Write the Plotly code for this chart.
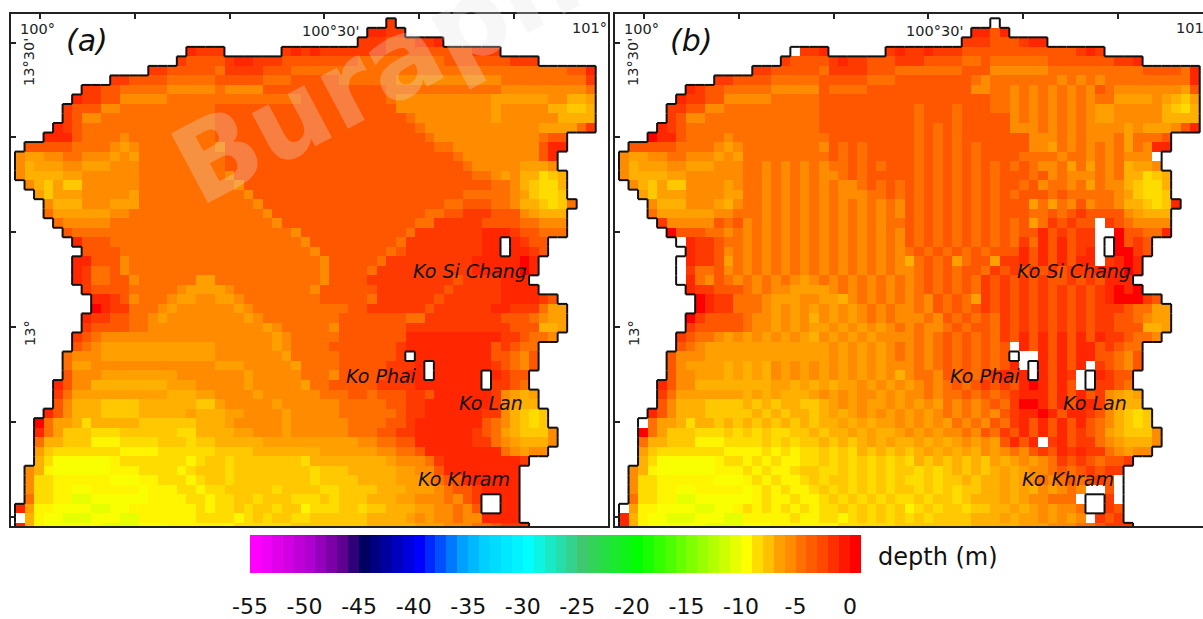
import plotly.graph_objects as go

W, H = 1203, 619
DEPTH_TICKS = [-55, -50, -45, -40, -35, -30, -25, -20, -15, -10, -5, 0]
COLOR_STOPS = [(-55, (255, 0, 255)), (-50, (176, 0, 208)), (-47, (96, 0, 144)), (-45, (0, 0, 96)),
               (-40, (0, 0, 255)), (-36, (0, 160, 255)), (-34, (0, 208, 255)), (-30, (0, 255, 255)),
               (-25, (64, 200, 112)), (-20, (0, 255, 0)), (-10, (255, 255, 0)), (-9, (255, 220, 0)),
               (-8, (255, 192, 0)), (-7, (255, 160, 0)), (-6, (255, 140, 0)), (-5, (255, 112, 0)),
               (-4, (255, 92, 0)), (-3, (255, 72, 0)), (-2, (255, 48, 0)), (-1, (255, 24, 0)), (0, (255, 0, 0))]
# depth in metres for each class letter used in the grids below
DEPTH_OF = {"0": 0, "1": 1.6, "2": 2.4, "3": 3.7, "4": 5, "5": 6, "6": 7, "7": 7.5, "8": 8.3, "9": 9, "a": 9.7, "b": 10.2, "c": 11}
LEFT = [39, 37, 36, 18, 17, 14, 10, 7, 6, 5, 5, 4, 3, 1, 0, 0, 0, 1, 2, 3, 3, 4, 5, 6, 7, 6, 6, 6, 7, 8, 8, 7, 7, 6, 6, 5, 5, 5, 4, 4, 4, 3, 2, 2, 2, 2, 2, 1, 1, 1, 1, 0, 0, 0]
RIGHT = [40, 41, 45, 51, 55, 61, 61, 61, 61, 61, 61, 61, 58, 58, 57, 57, 58, 58, 58, 59, 58, 58, 58, 56, 56, 55, 55, 54, 55, 57, 58, 58, 58, 57, 55, 55, 55, 54, 54, 55, 55, 56, 56, 57, 57, 56, 54, 53, 53, 53, 53, 53, 53, 54]
ISLANDS = [(23, 51), (24, 51), (35, 41), (36, 43), (37, 43), (37, 49), (38, 49), (50, 49), (50, 50), (51, 49), (51, 50)]
WHITE_A = [(52, 0)]

A_ROWS = [
"2", "1122", "222333221", "1222 ...... 21212222222 333333333 222",
"2 3333 2 11 2 22 3*8 4*9 3*6 3222",
"22 3*5 4 2222 333 4*29 33 1",
"22 3333 4*5 3 3333 444 3*5 4*6 5*11 4*9 2",
"22 33 4*5 5*5 4 5555 3*13 4*12 5*9 4",
"1 22 33 5*5 4*14 3*9 4 5*10 6*6 55 77 6",
"2 333 55 4*10 3*19 5 5*9 6 5*5 77 88 7",
"2 3 55 4*12 3*20 4 5*8 6 5*6 7777",
"1 2 3 4*14 3*21 4 5*12 6666 4 2",
"111 3 4444 5 4*9 3*22 4 5*11 433",
"3*5 4444 5 6 5 4*8 5 3*22 44 5*9 3 1 1",
"5 66 55 44 555 6 5 6 4*8 4 3*24 4 5*8 3 1",
"5 7 666 55 666 555 4*8 4 3*25 4 5*5 666 5",
"5 7777 66 5*6 4*9 5 3*25 44 5 6 5 77 9 8 7",
"5 7 8 6 88 5*6 4*10 5 3*25 3 44 5 7 8 9 9 7",
"6 8 666 5*5 6 4*11 5 3*22 4*5 5 6 8 9 9 8",
"5 777 555 666 4*12 5 3*19 44 333 44 5 7 7 8 9 8 4",
"4 6*6 55 4*14 5 3*16 44 33 222 333 5 6 777",
"4 5*5 4*17 5 3*14 44 2*5 3333 4 4555",
"3 4*23 5 3*11 4 2*7 111 2 3 3444",
"1 333 4*20 5 3*9 4 2*8 11 1 1 233",
"3333 4*20 5 3*7 4 3 2*8 11 1 1 123",
"11 333 5 4*20 5 3*5 4 2*9 1*5 01",
"1 2 44 3 5 4*20 5 3*4 4 2*10 1*5 01",
"1 2 44 33 5 4*6 66 4*11 5 3*4 2*9 3 2222 111",
"2 333 3 4*5 5 666 65 4*8 5 3*6 2*7 3 2*5 1111",
"1 1 2 3 5 444 5 66 55 66 5 4*8 3*5 4 2*6 3 2*6 1111 2 3",
"0 1 22 444 5 6 5*6 6 5 4*10 33 2*6 3 2*6 11 222 4 6 6",
"1 22 33 44 5 6 5*8 6 5 4*8 3*7 44 2*8 33 3 4 5 66",
"2 3333 44 5*12 6 5 4*5 5 3*6 3 2*10 233 3 77 6",
"2 3 4 5*18 6 5 4*5 3*7 1*10 22 3 44 5",
"3 4 5 6*12 5*6 6 5 4*4 3*7 2 1*9 3 2 3 4 4",
"4 555 6*12 5*7 6 4*5 3*6 2 1*9 33 4 5 3",
"4 6 6 5*13 66 6 5*5 6 4*4 3*5 2221 1*6 1 2 3 4 5 3",
"3 555 6*8 5*7 6 5*5 444 5 3*5 2211 1*6 11 2 3 3",
"1 3 55 7*8 666 5*5 6 5*5 6 4433333 2222 1*8 22 3 4",
"2 4 6 6*9 777 66 5*4 6 5*5 544433 4 33 3 22 3 1*6 2 56 76",
"3 5 777 8888 7*6 88 6 5*5 6 5*6 4 4444 33 22 1*7 2 5 6 77",
"1 3 5 777 8888 7*5 6 777 66 5555 6 555 55 444444 3 22 1*6 22 5 7 8 9 8",
"0 4 66 7 9 7*5 8*6 777 6 5*5 6 5*6 4444 332 1*7 3 4 5 7 8 9 8",
"1 4 6 888 999 8*6 99 7777 6 6555 6 5*6 444 33 22 1*6 2 3 4 6 7 888 5",
"4 77 888 aaa 9999 888 9 8 87777 7 6666 6*6 5544 33 1*6 2 2 4 5 6 777 5",
"6 8 9*7 aaaa 9*5 9 8888 7*7 6*6 55443 1*8 4 5 6 5 5",
"7 9 b*6 a99999 99 a9 88 9 8*7 9 7*7 7 65554 2 1*8 2",
"5 7 a b*6 aaa 9999 a 9 8 88 9 8*7 8 9 8 88 7*5 6655 3 1*8",
"5 99 a*6 bbb aa999 a 9 889 8*8 9888 8777 7666 54 33 1*6",
"5 99 aa bb a*5 b aaa 99 a 9988888988 8899 88887 77666 54332 1111",
"4 99 aa cc b*6 aaaa 99 a 998898889 9 989 88877 76655 54532 1111",
"1 6 aa bbbb cc bb a*7 9a9 98988988 a 9998 8988 77766 55453 1111",
"1 7 a bb ccc bbb cc aaa aa a9 99 9a9 89889 9888 88877 77656 55455 1111",
"17a b*6 cccc bbb a*7 9*6 8*8 7*5 666 555 44 3 222",
]

B_ROWS = [
".", "1131", "222 333 211", ".221 ...... 21221222 333333333 333 212",
"2 3333 2 1 22 333 222 3333 44 3 444444 333333 3221",
"22 33333 4 2222 333 4*7 33 3 555555 4*10 3333 4 1",
"22 3333 44444 3 3333 444 3*8 4 5 4*7 5 4 5 4 5 4*9 1",
"1 2 33 44444 55555 3 4444 3*11 55 44 5 4 5 4 5 4 5 4 5 3 4 5*7 6 3",
"1 22 33 55555 44444 3*18 44 5 4 5 4 5 4 5 4 5 4 4 6 666 5 6 7 8 6",
"2 2 33 55 4*10 3*10 4 333 4 33 3 44 5 4 5 4 5 4 5 4 5 66 5*5 7 8 9 7",
"2 3 55 4*12 3*10 4 333 4 3*5 5 4 5 4 5 4 5 4 5 66 5*5 7777",
"1 2 3 4*14 3*10 4 3 4 3 4 3*5 555 4 5 4 5 4 5555 6 5 6665 3 1",
"0 11 3 4444 5 4*9 4 3*9 4 3 4 3 4 3*7 555 4 5 4 5 5 5 4 6 4 4 4 3",
"3*5 4444 5 6 5 4*8 5 3 4 3 4 3*5 4 3 4 3 4 3 4 3*5 55 6 4 5 4 5 4 5 4 6 4 5 1 1",
"5 66 55 44 555 6 5 6 4*9 3 4 3 4 3*5 4 3 4 3 4 3 4 3333 4444 5 4 4 5 4 5 4 5 55 .",
"5 7 666 55 666 555 44 5 4 5 4 5 4 5 4 4 3 4 3 4 333 4 3 4 3 4 3 4 3 4 3 4 3 4 55 4 6 4 6 4 5 4 7 66 5",
"5 7777 66 5*6 44 5 4 5 4 5 4 55 4 3 4 3 3 333 4 3 4 3 4 3 4 3 4 333 43 5 4 5 55 4 5 4 77 9 8 7",
"5 7 8 6 88 5555 6 5 44 5 4 5 4 5 4 5 4 55 4 3 4 3 4 3 4 3 4 3 4 3 4 3 4 3 3 4 3 5 4 4 5 4 6 4 5 5 7 8 9 9 7",
"6 8 666 5555 66 44 5 4 5 4 5 4 5 4 555 4 4 3 4 3 4 3 4 3 4 3 4 3 4 3 4 3 3 343 44444 5 6 8 9 9 8",
"5 777 555 6 7 5 44 5 4 5 4 5 4 5 4 5 4 5 4 5 4 5 3 4 3 4 3 4 3 4 3 4 333 6 4 6 4 5 3 5 44 5 7 7 8 9 8 1",
"4 6*6 55 44454 5 4 5 4 5 4 5 4 5 4 5 4 5 3 4 3 4 3 4 3 4 3 4 3 3 3 44 3 4 3 2 3 333 5 6 777",
"2 55555 3 4 3 5454545454545454 4 3434343434343 6 4 2 3 2 3 3 . 2 3 4 5555",
"0 3 33 4 45 4 54545454545454545 343434343434 33 1 3 2 3 22 .. 0 33 44 1",
". 1 22 3 44 54545454545454545 343434343434 2 4 1 3 1 3 2 2 . 1 0 3 2 3",
"1 22 3 5 454545454545454545 4343434343 33 1 3 1 3 1 3 2 1 . 1 0 0 2 3",
". 1 22 3 6 454545454545454545 7 4343 6 4 33 6 22 1 3 1 3 1 3 1 1 . 2 1 0 1",
". 2 44 3 5 454545454545454545 5 4 3 4 3 4 33 4 232323232 22 111 01",
". 1 4 5 3 4 5 454545 6 5 45454545454 3 4 3 4 3 4 23232323 3 2323 111",
"1 22 3 3 3 4545 5 6 66 6 5 454545454 343434 2323232323232 1010",
"0 1 22 4 4 45 666 55 66 7 5 4545454 5 3434 6 2323232323232 1000 2 3",
"0 1 22 444 5 6 5 6 5 6 5 6 5 6 5 4 5 4 5 5 4 5 3 4 3 4 3 232323232323 2223 4 4 6 6",
"0 2 333 3 4 5 5 6 5 6 5 7 5 6 5 6 5 4 5 4 5 5545 3 4 3 4 3 4 23232323232 233 4 5 66",
"2 3333 34 5 5 6 5 6 5 6 6 5 6 5 6 5 6 5 4 5 4 5 5 4 3 4 3 3 4 23232323232 233 3 77 6",
"2 3 44 5 6 5 6 5 6 5 6 5 6 7 5 656565 5 5 5454 343434 23131313131 22 3 44 5",
"3 4 5 6*13 5 6 5 6 5 6 5 4 5454 3434343 . 13131311 3 2 3 44",
"3 555 6*13 5656565 4 5454 3434343 ... 131311 33 4 5 3",
"3 5 6 666 7 6 7 6 7 5 6 5 6 5 65656565 5 5454 343434 31 .. 13131 . 2 3 4 5 3",
"3 55 6 66 7 6 7 6 7 5 6 5 6 5 6 5 6 5 6 5 6 5 7 544 5 34343 2121 . 1312 .. 1 2 3 3",
"1 3 55 7*8 66767676 6 5 6 5 6 5 6 5454343 2323 101313 .. 2234",
"2 4 6 6*6 767677 76 56565 56565 5 45443 4 34 3 21 1 131313 2 56 76",
"3 5 777 8888 787877 88 7 65656 6 565656 45454 34 2 00 1313 11 2 5 6 77",
"1 3 5 777 8888 878787 787 67 6565 6 56565 454545 3 21 101311 23 5 7 8 9 8",
". 4 66 7 9 77878 787878 787 7 67676 6 565656 4545 342 1313131 3 4 5 7 8 9 8",
"0 4 6 888 999 898989 98 8787 7 6767 7 656565 545 34 23 131313 2 3 4 6 7 888 5",
"4 77 888 aaa 9999 898 9 8 87878 7 6767 767676 5656 3131 . 2 13 22 4 5 6 777 5",
"6 8 9*7 aaaa 9a9a9 9 8989 7878787 676767 56545 323 1212 2 4 5 6 55",
"7 9 b*6 a99a9a 9a a9 989 8989898 9 78787878 676565 42323 4332",
"5 7 a b*6 aaa 9a9a a 9 8 89 9 8989898 89898 78787 6765 54343 2322",
"5 99 a*6 bbb a9a9a a 9 898 89898989 9898 8787 7676 545434 323.",
"5 99 aa bb a*5 b a9a 9a a 9898989898 8989 89887 76767 56545 .. 3 .",
"4 99 aa cc b*6 a9aa 9a a 989898989 9 898 89877 76765 5444 . .. 2 .",
". 6 aa bbbb cc bb a9a9a9a 9a9 98989898 a 9898 8988 77676 56554 .. 23",
"1 7 a bb ccc bbb cc aaa aa9a a9 9a9 89898 9898 88877 76766 56565 . 2 32",
"17a b*6 cccc bbb a*7 9*6 8*8 7*5 666 555 44 3 222",
]

NCOL = 61
NROW = len(A_ROWS)
PXMIN = 9.48            # pixels per arc-minute on the map axes
CELL = 9.52 / PXMIN     # grid spacing in arc-minutes
X_EDGE0 = (15 - 40) / PXMIN
Y_EDGE0 = (327 - 18.3) / PXMIN


def expand(text):
    out = ""
    for tok in text.split():
        if "*" in tok:
            ch, n = tok.split("*")
            out += ch * int(n)
        else:
            out += tok
    return out


def build(rows):
    grid = []
    for r, text in enumerate(rows):
        cells = expand(text)
        cells = (cells + cells[-1] * NCOL)[:RIGHT[r] - LEFT[r]]
        line = [None] * NCOL
        for i, ch in enumerate(cells):
            if ch != ".":
                line[LEFT[r] + i] = -DEPTH_OF[ch]
        grid.append(line)
    return grid


grid_a = build(A_ROWS)
grid_b = build(B_ROWS)
for r, c in ISLANDS:
    grid_a[r][c] = None
    grid_b[r][c] = None


def coastline(grid):
    xs, ys = [], []
    ex = lambda k: X_EDGE0 + CELL * k
    ey = lambda r: Y_EDGE0 - CELL * r
    sea = lambda r, c: 0 <= r < NROW and 0 <= c < NCOL and grid[r][c] is not None
    for r in range(NROW):
        for c in range(NCOL):
            if not sea(r, c):
                continue
            if not sea(r - 1, c):
                xs += [ex(c), ex(c + 1), None]; ys += [ey(r), ey(r), None]
            if not sea(r + 1, c):
                xs += [ex(c), ex(c + 1), None]; ys += [ey(r + 1), ey(r + 1), None]
            if not sea(r, c - 1):
                xs += [ex(c), ex(c), None]; ys += [ey(r), ey(r + 1), None]
            if not sea(r, c + 1):
                xs += [ex(c + 1), ex(c + 1), None]; ys += [ey(r), ey(r + 1), None]
    return xs, ys


coast_x, coast_y = coastline(grid_a)
for r, c in WHITE_A:
    grid_a[r][c] = None


def lerp_color(v):
    for (v0, c0), (v1, c1) in zip(COLOR_STOPS, COLOR_STOPS[1:]):
        if v0 <= v <= v1:
            t = (v - v0) / (v1 - v0)
            return "rgb(%d,%d,%d)" % tuple(round(a + (b - a) * t) for a, b in zip(c0, c1))


LEVELS = list(range(-55, 1))
bar_scale = []
for i, lv in enumerate(LEVELS):
    col = lerp_color(lv)
    bar_scale.append([i / len(LEVELS), col])
    bar_scale.append([(i + 1) / len(LEVELS), col])
map_scale = [[(lv + 55) / 55, lerp_color(lv)] for lv in LEVELS]

xc = [X_EDGE0 + CELL * (c + 0.5) for c in range(NCOL)]
yc = [Y_EDGE0 - CELL * (r + 0.5) for r in range(NROW)]

fig = go.Figure()
for i, grid in enumerate([grid_a, grid_b]):
    ax = "" if i == 0 else "2"
    fig.add_trace(go.Heatmap(z=grid, x=xc, y=yc, xaxis="x" + ax, yaxis="y" + ax, colorscale=map_scale,
                             zmin=-55, zmax=0, showscale=False, hoverinfo="skip"))
    fig.add_trace(go.Scatter(x=coast_x, y=coast_y, xaxis="x" + ax, yaxis="y" + ax, mode="lines",
                             line=dict(color="#111111", width=2), hoverinfo="skip", showlegend=False))
fig.add_trace(go.Heatmap(z=[LEVELS], x=[v + 0.5 for v in LEVELS], y=[0], xaxis="x3", yaxis="y3",
                         colorscale=bar_scale, zmin=-55.5, zmax=0.5, showscale=False, hoverinfo="skip"))

FRAME = dict(showgrid=False, zeroline=False, showline=True, linecolor="#222222", linewidth=2,
             showticklabels=False, ticks="inside", ticklen=5, tickcolor="#222222", tickwidth=1.5)
LON_TICKS = [0, 10, 20, 30, 40, 50, 60]
LAT_TICKS = [30, 20, 10, 0, -10, -20]
yrange = [(327 - 526) / PXMIN, (327 - 14) / PXMIN]
ydomain = [1 - 526 / H, 1 - 14 / H]
fig.update_layout(
    width=W, height=H, autosize=False, margin=dict(l=0, r=0, t=0, b=0, autoexpand=False),
    paper_bgcolor="white", plot_bgcolor="white", showlegend=False,
    xaxis=dict(FRAME, domain=[11 / W, 608 / W], range=[(11 - 40) / PXMIN, (608 - 40) / PXMIN],
               side="top", tickvals=LON_TICKS, mirror=True, anchor="y"),
    yaxis=dict(FRAME, domain=ydomain, range=yrange, tickvals=LAT_TICKS, mirror=True, anchor="x"),
    xaxis2=dict(FRAME, domain=[615 / W, 1], range=[(615 - 644) / PXMIN, (1203 - 644) / PXMIN],
                side="top", tickvals=LON_TICKS, mirror=True, anchor="y2"),
    yaxis2=dict(FRAME, domain=ydomain, range=yrange, tickvals=LAT_TICKS, mirror=False, anchor="x2"),
    xaxis3=dict(domain=[250 / W, 861 / W], range=[-55, 1], showgrid=False, zeroline=False, showline=False,
                tickmode="array", tickvals=DEPTH_TICKS, ticktext=[str(v) for v in DEPTH_TICKS], ticks="",
                ticklabelstandoff=18, tickfont=dict(family="DejaVu Sans", size=22, color="#111111"),
                anchor="y3"),
    yaxis3=dict(domain=[1 - 573 / H, 1 - 535 / H], visible=False, anchor="x3"),
)

notes = []


def note(text, x, y, size, angle=0, italic=False, color="#111111"):
    family = "DejaVu Sans"
    txt = "<i>%s</i>" % text if italic else text
    notes.append(dict(text=txt, x=x / W, y=1 - y / H, xref="paper", yref="paper", showarrow=False,
                      xanchor="center", yanchor="middle", textangle=angle,
                      font=dict(family=family, size=size, color=color)))


PANEL_SHIFT = [0, 604]
PLACE_LABELS = ["Ko Si Chang", "Ko Phai", "Ko Lan", "Ko Khram"]
PLACE_PX = [(470, 271), (381, 376), (491, 403), (464, 479)]
for i, dx in enumerate(PANEL_SHIFT):
    note("(a)" if i == 0 else "(b)", 87 + dx, 41, 30, italic=True)
    note("100°", 37 + dx, 29, 14.5, color="#222222")
    note("100°30'", 330 + dx, 31, 14.5, color="#222222")
    note("101°", 589 + dx, 28, 14.5, color="#222222")
    note("13°30'", 29 + dx, 62, 14.5, angle=-90, color="#222222")
    note("13°", 30 + dx, 333, 14.5, angle=-90, color="#222222")
    for name, (px, py) in zip(PLACE_LABELS, PLACE_PX):
        note(name, px + dx, py, 19, italic=True)
note("depth (m)", 938, 557, 24)
notes.append(dict(text="<b>Burapha</b>", x=408 / W, y=1 - 55 / H, xref="paper", yref="paper", showarrow=False,
                  xanchor="center", yanchor="middle", textangle=-28,
                  font=dict(family="DejaVu Sans", size=108, color="rgba(255,255,255,0.2)",
                            shadow="0 0 1px rgba(170,170,170,0.55)")))
fig.update_layout(annotations=notes)

fig.write_html("out.html", config={"displayModeBar": False},
               post_script="document.body.style.margin='0';document.documentElement.style.overflow='hidden';")
